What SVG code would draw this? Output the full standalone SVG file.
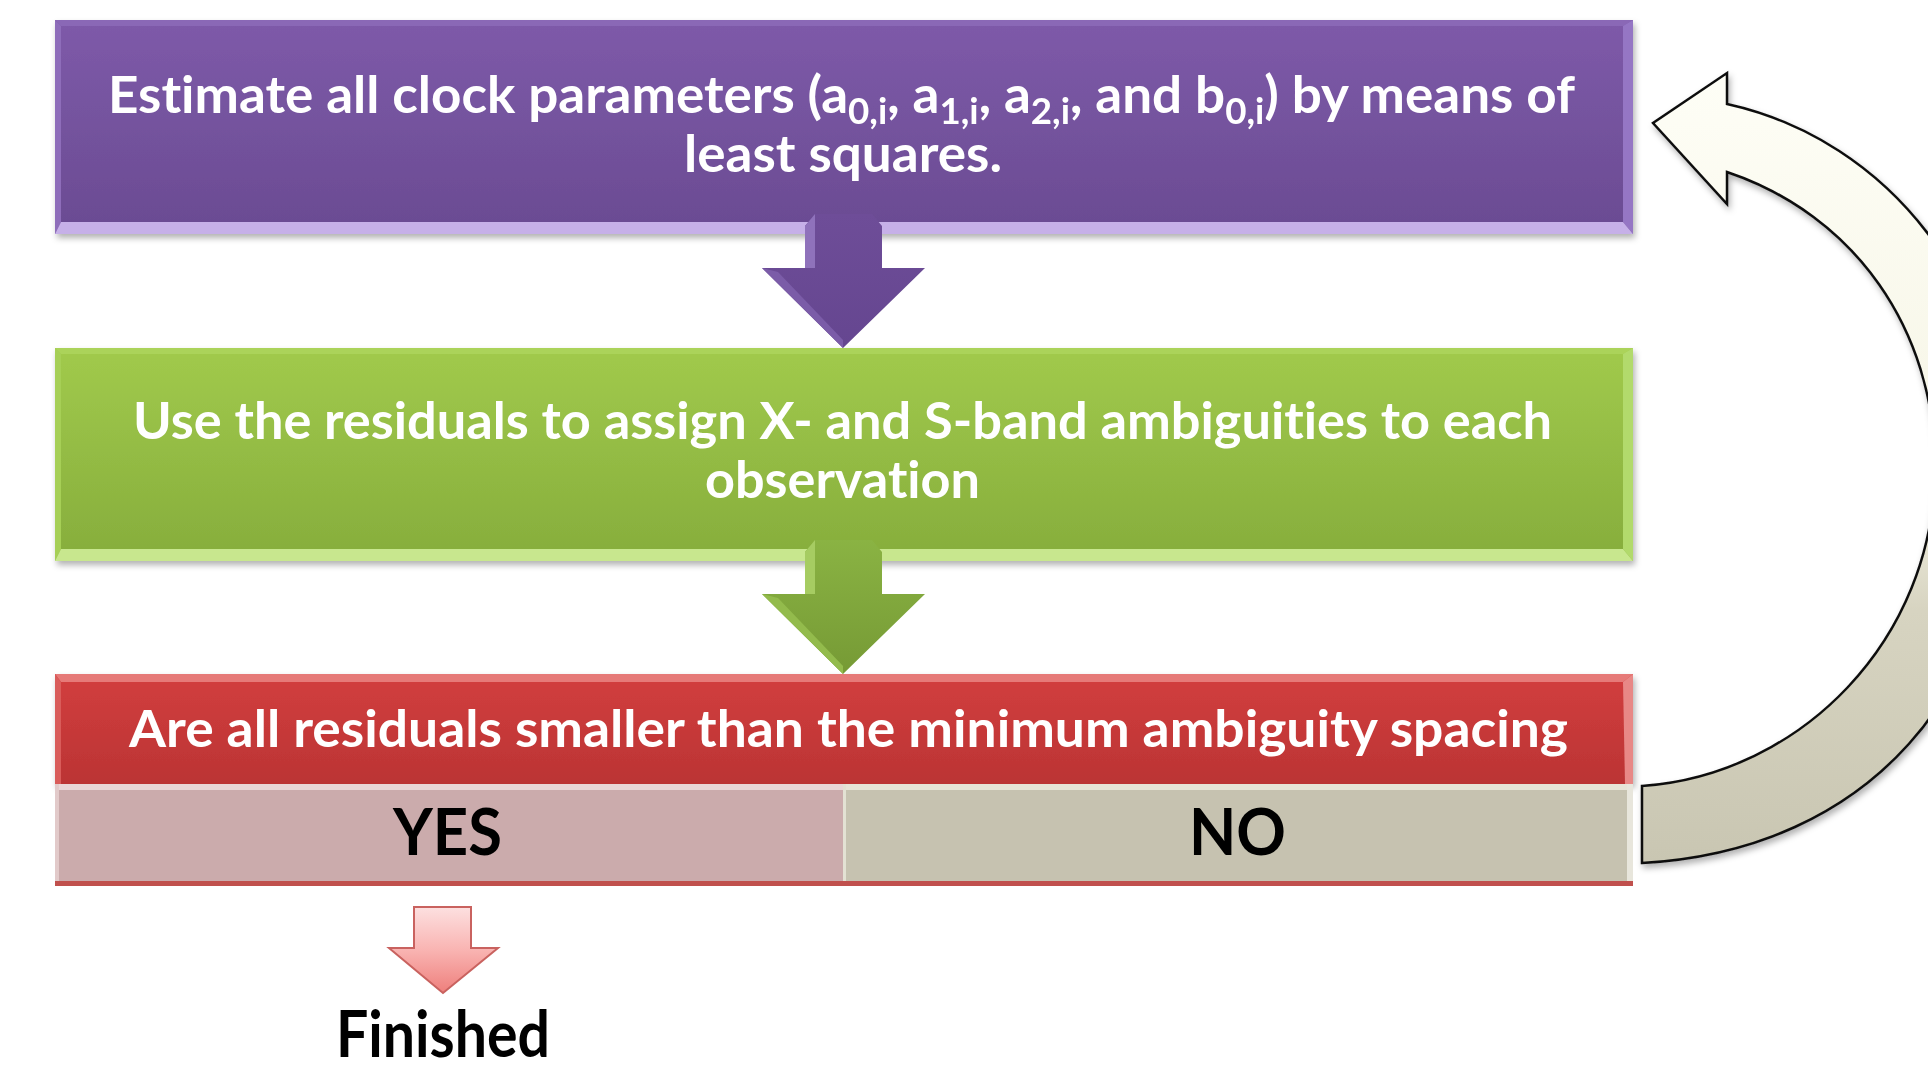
<svg xmlns="http://www.w3.org/2000/svg" width="1928" height="1066" viewBox="0 0 1928 1066">
<style>
.t{font-family:Lato,"Liberation Sans",sans-serif;font-weight:700;fill:#ffffff;font-size:52px;font-variant-ligatures:none;font-feature-settings:"liga" 0,"clig" 0}
.k{font-family:Lato,"Liberation Sans",sans-serif;font-weight:700;fill:#000000;font-size:65px;font-variant-ligatures:none;font-feature-settings:"liga" 0,"clig" 0}
.sub{font-size:36px}
</style>
<defs>
<linearGradient id="gP" x1="0" y1="0" x2="0" y2="1"><stop offset="0" stop-color="#7e5aa9"/><stop offset="1" stop-color="#6a4b92"/></linearGradient>
<linearGradient id="gG" x1="0" y1="0" x2="0" y2="1"><stop offset="0" stop-color="#a1ca4c"/><stop offset="1" stop-color="#86ad3c"/></linearGradient>
<linearGradient id="gR" x1="0" y1="0" x2="0" y2="1"><stop offset="0" stop-color="#d23e3e"/><stop offset="1" stop-color="#bb3434"/></linearGradient>
<linearGradient id="gPA" x1="0" y1="0" x2="0" y2="1"><stop offset="0" stop-color="#6e4d98"/><stop offset="1" stop-color="#654690"/></linearGradient>
<linearGradient id="gGA" x1="0" y1="0" x2="0" y2="1"><stop offset="0" stop-color="#8ab343"/><stop offset="1" stop-color="#769a35"/></linearGradient>
<linearGradient id="gPink" x1="0" y1="0" x2="0" y2="1"><stop offset="0" stop-color="#fde0e0"/><stop offset="0.5" stop-color="#f9b4b2"/><stop offset="1" stop-color="#ee7f7c"/></linearGradient>
<linearGradient id="gC" gradientUnits="userSpaceOnUse" x1="0" y1="73" x2="0" y2="863"><stop offset="0" stop-color="#fefef6"/><stop offset="0.5" stop-color="#f6f5e6"/><stop offset="0.68" stop-color="#d7d4c1"/><stop offset="1" stop-color="#c9c6b2"/></linearGradient>
<filter id="sh" x="-5%" y="-10%" width="110%" height="130%"><feDropShadow dx="2" dy="4" stdDeviation="3" flood-color="#000" flood-opacity="0.3"/></filter>
</defs>

<g id="box-estimate" filter="url(#sh)">
<rect x="55" y="20" width="1578" height="214" fill="url(#gP)"/>
<polygon points="55,20 1633,20 1623,26 61,26" fill="#8a68b6"/>
<polygon points="55,20 61,26 61,222 55,234" fill="#8e6dba"/>
<polygon points="1623,26 1633,20 1633,234 1623,222" fill="#9576c4"/>
<polygon points="61,222 1623,222 1633,234 55,234" fill="#c6b0e8"/>
<text class="t" x="108" y="113" textLength="1467" lengthAdjust="spacingAndGlyphs">Estimate all clock parameters (a<tspan class="sub" dy="11">0,i</tspan><tspan dy="-11">, a</tspan><tspan class="sub" dy="11">1,i</tspan><tspan dy="-11">, a</tspan><tspan class="sub" dy="11">2,i</tspan><tspan dy="-11">, and b</tspan><tspan class="sub" dy="11">0,i</tspan><tspan dy="-11">) by means of</tspan></text>
<text class="t" x="684" y="172" textLength="318" lengthAdjust="spacingAndGlyphs">least squares.</text>
</g>

<g id="box-assign" filter="url(#sh)">
<rect x="55" y="348" width="1578" height="213" fill="url(#gG)"/>
<polygon points="55,348 1633,348 1623,354 61,354" fill="#abd35a"/>
<polygon points="55,348 61,354 61,549 55,561" fill="#a6cf56"/>
<polygon points="1623,354 1633,348 1633,561 1623,549" fill="#b2da6c"/>
<polygon points="61,549 1623,549 1633,561 55,561" fill="#c8e78e"/>
<text class="t" x="133" y="439" textLength="1419" lengthAdjust="spacingAndGlyphs">Use the residuals to assign X- and S-band ambiguities to each</text>
<text class="t" x="705" y="498" textLength="275" lengthAdjust="spacingAndGlyphs">observation</text>
</g>

<g id="box-check" filter="url(#sh)">
<rect x="55" y="674" width="1578" height="110" fill="url(#gR)"/>
<polygon points="55,674 1633,674 1623,682 61,682" fill="#e67a78"/>
<polygon points="55,674 61,682 61,784 55,784" fill="#d95b5a"/>
<polygon points="1623,682 1633,674 1633,784 1625,784" fill="#e88886"/>
<text class="t" x="129" y="747" textLength="1439" lengthAdjust="spacingAndGlyphs">Are all residuals smaller than the minimum ambiguity spacing</text>
</g>

<g id="cell-yes">
<rect x="55" y="784" width="788" height="101" fill="#cbabac"/>
<rect x="55" y="784" width="788" height="6" fill="#e9d7d7"/>
<rect x="55" y="784" width="4" height="101" fill="#e2caca"/>
<text class="k" x="393" y="855" textLength="109" lengthAdjust="spacingAndGlyphs">YES</text>
</g>

<g id="cell-no">
<rect x="843" y="784" width="790" height="101" fill="#c6c2b0"/>
<rect x="843" y="784" width="790" height="6" fill="#e7e4d7"/>
<rect x="843" y="784" width="3" height="101" fill="#e3e1d3"/>
<rect x="1627" y="784" width="6" height="101" fill="#e8e6dc"/>
<text class="k" x="1189" y="855" textLength="97" lengthAdjust="spacingAndGlyphs">NO</text>
</g>
<rect x="55" y="881" width="1578" height="5" fill="#c0504d"/>

<g id="connectors">
<g id="arrow-1">
<polygon points="815,214 872,214 882,226 882,268 925,268 843,348 762,268 805,268 805,226" fill="url(#gPA)"/>
<polygon points="805,226 815,214 815,268 805,268" fill="#8f72bb"/>
<polygon points="762,268 843,348 843,340 778,272" fill="#7b5ca8"/>
</g>
<g id="arrow-2">
<polygon points="815,540 872,540 882,552 882,594 925,594 843,674 762,594 805,594 805,552" fill="url(#gGA)"/>
<polygon points="805,552 815,540 815,594 805,594" fill="#a6cc62"/>
<polygon points="762,594 843,674 843,666 778,598" fill="#93bb4c"/>
</g>
<g id="arrow-yes">
<polygon points="414,907 471,907 471,948 498,948 443,993 389,948 414,948" fill="url(#gPink)" stroke="#c9625f" stroke-width="2" stroke-linejoin="miter"/>
</g>
<g id="arrow-loop">
<path d="M1642,786 C1800,775 1935,640 1935,467 C1935,330 1855,215 1727,172 L1727,204 L1653,123 L1727,73 L1727,104 C1890,140 2005,290 2005,467 C2005,690 1870,850 1642,863 Z" fill="url(#gC)" stroke="#111" stroke-width="2.5" stroke-linejoin="miter" filter="url(#sh)"/>
</g>
</g>

<g id="label-finished">
<text class="k" x="336" y="1057" textLength="214" lengthAdjust="spacingAndGlyphs">Finished</text>
</g>
</svg>
